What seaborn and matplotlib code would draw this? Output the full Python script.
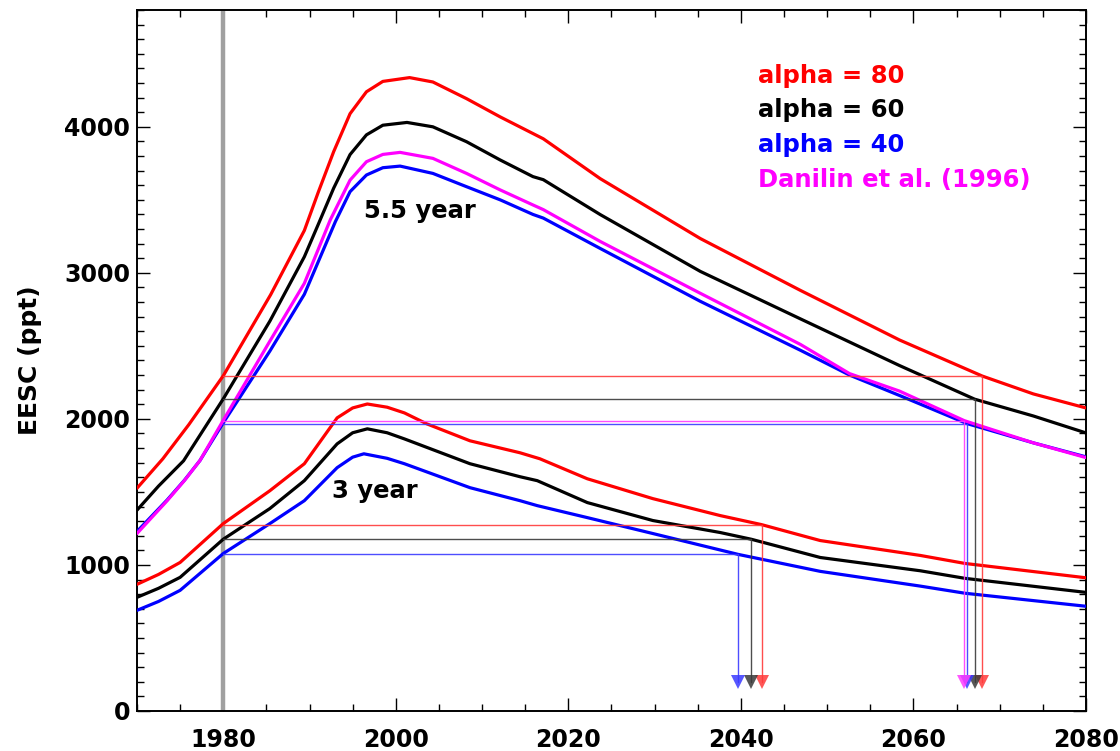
import numpy as np
import pandas as pd
import matplotlib
matplotlib.use("Agg")
import matplotlib.pyplot as plt
import seaborn as sns
from matplotlib.ticker import MultipleLocator, FixedLocator

# ---------------- data ----------------
# 5.5 year mean age of air
u_red_years = [1970, 1973, 1976, 1980, 1985.5, 1989.4, 1991, 1992.8, 1994.7, 1996.6, 1998.5, 2001.6, 2004.3,
               2008.2, 2012.1, 2015.9, 2017.1, 2023.7, 2035.3, 2046.9, 2058.4, 2068, 2073.9, 2080]
u_red_vals = [1525, 1727, 1960, 2295, 2851, 3290, 3550, 3830, 4090, 4240, 4311, 4337, 4307,
              4193, 4068, 3954, 3918, 3645, 3235, 2880, 2540, 2293, 2171, 2075]

u_black_years = [1970, 1972.5, 1975.4, 1980, 1985.4, 1989.4, 1991, 1992.8, 1994.7, 1996.6, 1998.5, 2001.3, 2004.3,
                 2008.2, 2012.1, 2015.9, 2017.1, 2023.7, 2035.3, 2046.9, 2058.4, 2067.1, 2073.9, 2080]
u_black_vals = [1375, 1540, 1713, 2137, 2669, 3110, 3330, 3580, 3810, 3945, 4011, 4030, 4000,
                3898, 3773, 3659, 3638, 3399, 3010, 2685, 2365, 2135, 2020, 1904]

u_blue_years = [1970, 1973.5, 1975.5, 1977.3, 1980, 1985.4, 1989.4, 1993.0, 1994.7, 1996.6, 1998.5, 2000.5, 2004.3, 2008.2,
                2012.1, 2015.9, 2017.1, 2023.7, 2035.3, 2046.9, 2052.6, 2058.4, 2066.2, 2073.9, 2080]
u_blue_vals = [1229, 1445, 1580, 1715, 1973, 2464, 2853, 3351, 3556, 3670, 3720, 3731, 3681, 3590,
               3500, 3400, 3375, 3167, 2805, 2470, 2300, 2160, 1968, 1836, 1740]

u_mag_years = [1970, 1973.5, 1975.5, 1977.3, 1980, 1985.4, 1989.4, 1992.4, 1994.7, 1996.6, 1998.5, 2000.5, 2004.3, 2008.2,
               2012.1, 2015.9, 2017.1, 2023.7, 2035.3, 2046.9, 2052.6, 2058.4, 2065.9, 2073.9, 2080]
u_mag_vals = [1215, 1440, 1578, 1715, 1990, 2532, 2928, 3362, 3635, 3761, 3811, 3825, 3784, 3681,
              3568, 3465, 3433, 3215, 2860, 2510, 2310, 2190, 1988, 1836, 1735]

# 3 year mean age of air
l_red_years = [1970, 1972.5, 1975, 1980, 1985.4, 1989.4, 1993.2, 1995, 1996.7, 1999, 2001, 2003.6, 2008.6, 2014.4,
               2016.7, 2022.2, 2029.8, 2037.6, 2042.4, 2049.2, 2060.8, 2066, 2080]
l_red_vals = [867, 935, 1017, 1283, 1508, 1693, 2007, 2075, 2102, 2080, 2041, 1966, 1850, 1768,
              1727, 1590, 1454, 1338, 1276, 1167, 1065, 1010, 912]

l_black_years = [1970, 1972.5, 1975, 1980, 1985.4, 1989.4, 1993.2, 1995, 1996.7, 1999, 2001, 2008.6, 2014.4, 2016.4,
                 2022.2, 2029.8, 2037.6, 2041.2, 2049.2, 2060.8, 2066, 2080]
l_black_vals = [778, 840, 915, 1176, 1386, 1577, 1829, 1905, 1932, 1905, 1863, 1693, 1604, 1577,
                1427, 1304, 1222, 1176, 1051, 960, 908, 812]

l_blue_years = [1970, 1972.5, 1975, 1980, 1985.4, 1989.4, 1993.2, 1995, 1996.3, 1999, 2001, 2008.6, 2014.4, 2016.4,
                2022.2, 2029.8, 2039.7, 2049.2, 2060.8, 2066, 2080]
l_blue_vals = [689, 750, 826, 1078, 1283, 1440, 1666, 1738, 1761, 1730, 1693, 1529, 1440, 1406,
               1324, 1215, 1072, 956, 855, 806, 717]

# return-to-1980 markers: level (1980 EESC) and year of return
ret_levels = [2293, 2135, 1966, 1986, 1276, 1176, 1072]
ret_years = [2068.0, 2067.1, 2066.2, 2065.9, 2042.4, 2041.2, 2039.7]
ret_colors = ["#ff3a3a", "#3a3a3a", "#3a3aff", "#ff3aff", "#ff3a3a", "#3a3a3a", "#3a3aff"]
ret_arrow_y = 200

legend_labels = ["alpha = 80", "alpha = 60", "alpha = 40", "Danilin et al. (1996)"]
legend_colors = ["#ff0000", "#000000", "#0000ff", "#ff00ff"]

x_major = [1980, 2000, 2020, 2040, 2060, 2080]
y_major = [0, 1000, 2000, 3000, 4000]

# ---------------- style ----------------
sns.set_theme(style="ticks")
plt.rcParams["font.family"] = ["DejaVu Sans"]
plt.rcParams["font.weight"] = "bold"
plt.rcParams["axes.labelweight"] = "bold"
plt.rcParams["text.color"] = "black"
plt.rcParams["axes.labelcolor"] = "black"
plt.rcParams["xtick.color"] = "black"
plt.rcParams["ytick.color"] = "black"
plt.rcParams["axes.edgecolor"] = "black"

fig = plt.figure(figsize=(11.2, 7.51), dpi=100)
ax = fig.add_axes([0.1223, 0.0533, 0.9696 - 0.1223, 0.9867 - 0.0533])

# 1980 reference line
ax.axvline(1980, color="#a0a0a0", lw=3.2, zorder=1)

series = [
    (u_red_years, u_red_vals, "#ff0000"),
    (u_black_years, u_black_vals, "#000000"),
    (u_blue_years, u_blue_vals, "#0000ff"),
    (u_mag_years, u_mag_vals, "#ff00ff"),
    (l_red_years, l_red_vals, "#ff0000"),
    (l_black_years, l_black_vals, "#000000"),
    (l_blue_years, l_blue_vals, "#0000ff"),
]
for yrs, vals, col in series:
    df = pd.DataFrame({"year": yrs, "eesc": vals})
    sns.lineplot(data=df, x="year", y="eesc", color=col, lw=2.3, ax=ax,
                 estimator=None, sort=True, zorder=3)
for ln in ax.lines:
    ln.set_solid_joinstyle("round")

# horizontal / vertical return lines with arrow heads
for lev, yr, col in zip(ret_levels, ret_years, ret_colors):
    ax.plot([1980, yr], [lev, lev], color=col, lw=1.0, alpha=0.9, zorder=4)
    ax.plot([yr, yr], [lev, ret_arrow_y], color=col, lw=1.0, alpha=0.9, zorder=4)
    ax.plot([yr], [ret_arrow_y], marker="v", markersize=9.5, color=col,
            markeredgewidth=0, alpha=0.85, zorder=5)

# labels
ax.text(1996.3, 3379, "5.5 year", fontsize=17.5, fontweight="bold", color="black",
        ha="left", va="baseline")
ax.text(1992.6, 1461, "3 year", fontsize=17.5, fontweight="bold", color="black",
        ha="left", va="baseline")

leg_base = [4300, 4068, 3829, 3590]
for lab, col, yb in zip(legend_labels, legend_colors, leg_base):
    ax.text(2042.0, yb, lab, fontsize=17.5, fontweight="bold", color=col,
            ha="left", va="baseline")

# axes
ax.set_xlim(1970, 2080)
ax.set_ylim(0, 4800)
ax.xaxis.set_major_locator(FixedLocator(x_major))
ax.xaxis.set_minor_locator(MultipleLocator(5))
ax.yaxis.set_major_locator(FixedLocator(y_major))
ax.yaxis.set_minor_locator(MultipleLocator(100))
ax.set_xticklabels([str(v) for v in x_major])
ax.set_yticklabels([str(v) for v in y_major])
ax.tick_params(axis="both", which="both", direction="in", top=True, right=True,
               labelsize=17, width=1.0, color="black", labelcolor="black")
ax.tick_params(axis="both", which="major", length=9.4)
ax.tick_params(axis="both", which="minor", length=5)
ax.tick_params(axis="x", which="major", pad=12)
ax.tick_params(axis="y", which="major", pad=5)
for lab in ax.get_xticklabels() + ax.get_yticklabels():
    lab.set_fontweight("bold")
for sp in ax.spines.values():
    sp.set_linewidth(1.4)
    sp.set_color("black")

ax.set_xlabel("")
ax.set_ylabel("EESC (ppt)", fontsize=18, fontweight="bold", color="black")
ax.yaxis.set_label_coords(-0.100, 0.5)
ax.grid(False)

fig.savefig("out.png", dpi=100)
